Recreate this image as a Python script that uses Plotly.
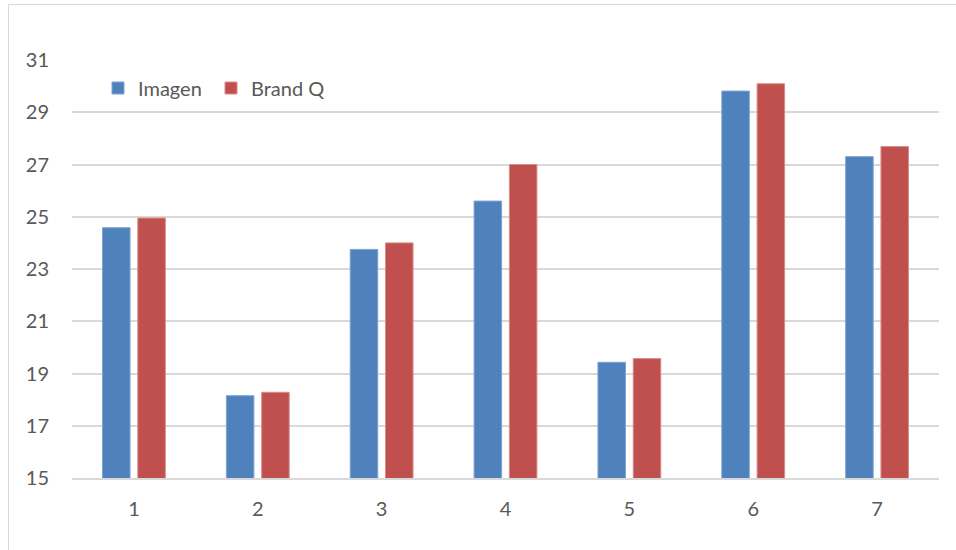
import plotly.graph_objects as go

categories = ["1", "2", "3", "4", "5", "6", "7"]
imagen = [24.58, 18.15, 23.75, 25.6, 19.43, 29.81, 27.3]
brand_q = [24.95, 18.28, 24.0, 27.0, 19.57, 30.09, 27.69]
y_ticks = [15, 17, 19, 21, 23, 25, 27, 29, 31]

W, H = 956, 550
ML, MR, MT, MB = 72, 17, 60, 72
pw = W - ML - MR
ph = H - MT - MB

font = dict(family="Lato, 'Open Sans', sans-serif", size=20, color="#595959")

fig = go.Figure()
fig.add_trace(go.Bar(x=categories, y=imagen, name="Imagen",
                     marker=dict(color="#4F81BD", line=dict(color="#7FA3D1", width=1))))
fig.add_trace(go.Bar(x=categories, y=brand_q, name="Brand Q",
                     marker=dict(color="#C0504D", line=dict(color="#D88C8A", width=1))))

# outer chart border (pixel -> paper)
def px_x(p):
    return (p - ML) / pw

def px_y(p):
    return (H - MB - p) / ph

fig.add_shape(type="rect", xref="paper", yref="paper",
              x0=px_x(8.5), x1=px_x(980), y0=px_y(4.5), y1=px_y(600),
              line=dict(color="#D9D9D9", width=1), fillcolor="rgba(0,0,0,0)", layer="below")

fig.update_layout(
    width=W, height=H,
    margin=dict(l=ML, r=MR, t=MT, b=MB),
    paper_bgcolor="white", plot_bgcolor="white",
    barmode="group", bargap=0.43, bargroupgap=0.22,
    font=font,
    showlegend=True,
    legend=dict(orientation="h", x=px_x(98), y=px_y(88), xanchor="left", yanchor="middle",
                bgcolor="rgba(0,0,0,0)", font=font, itemwidth=30, tracegroupgap=0,
                entrywidthmode="pixels", entrywidth=68),
    xaxis=dict(type="category", showgrid=False, showline=True, linecolor="#D9D9D9", linewidth=1.5,
               ticks="", tickfont=font, ticklabelstandoff=12),
    yaxis=dict(range=[15, 31], tickvals=y_ticks, showgrid=True, gridcolor="#D9D9D9", gridwidth=1.5,
               zeroline=False, showline=False, ticks="", tickfont=font, ticklabelstandoff=22),
)

fig.write_html("out.html")
